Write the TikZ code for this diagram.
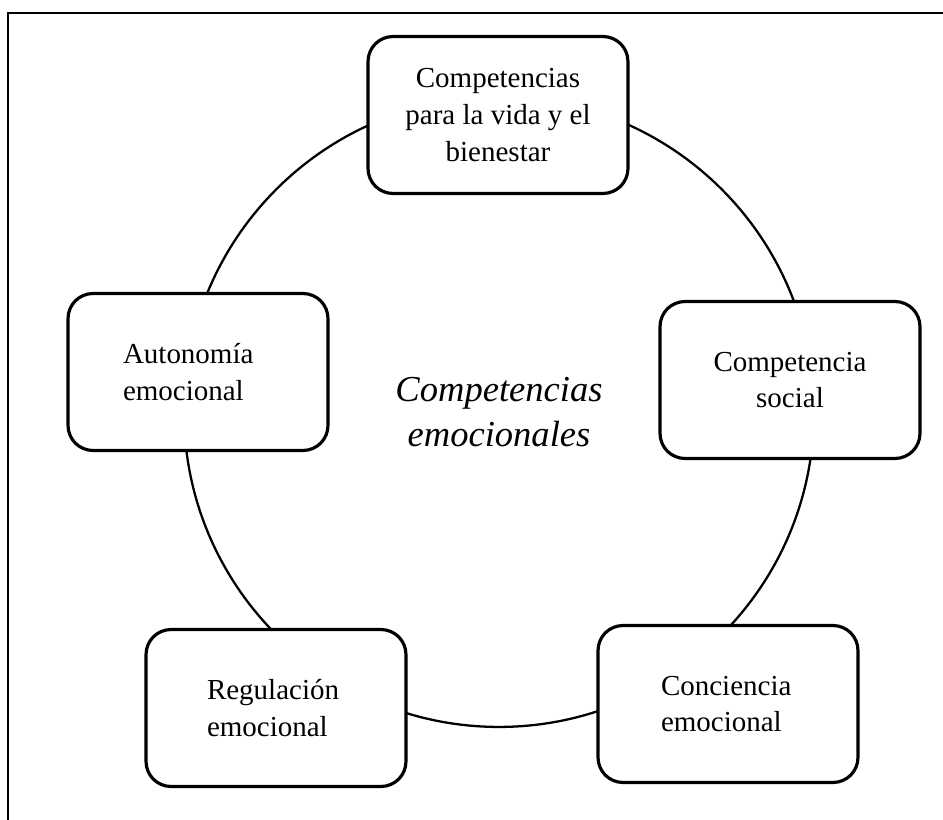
\documentclass[tikz,border=0pt]{standalone}
\usepackage{fontspec}
\setmainfont{Liberation Serif}

\begin{document}
\begin{tikzpicture}[x=0.02cm,y=-0.02cm,
  main node/.style={rectangle,rounded corners=0.5cm,draw,fill=white,
    line width=1.8pt,minimum width=5.2cm,minimum height=3.14cm,
    font=\fontsize{16.5}{21}\selectfont},
  center node/.style={align=center,
    font=\fontsize{20.8}{25.6}\selectfont\itshape}]

  \useasboundingbox (0,0) rectangle (943,820);
  \clip (0,0) rectangle (943,820);
  \draw[line width=1.3pt] (8,13) rectangle (960,840);

  \coordinate (MIDDLE) at (499,412);
  \draw[line width=1.3pt] (MIDDLE) circle (6.3cm);

  \node[center node] (TITLE) at (MIDDLE) {Competencias\\emocionales};

  \node[main node,align=center] (VIDA) at (498,115)
    {Competencias\\para la vida y el\\bienestar};
  \node[main node,align=center] (SOCIAL) at (790,380)
    {Competencia\\social};
  \node[main node,align=left,text width=2.68cm] (CONCIENCIA) at (728,704)
    {Conciencia\\emocional};
  \node[main node,align=left,text width=2.76cm] (REGULACION) at (276,708)
    {Regulación\\emocional};
  \node[main node,align=left,text width=3cm] (AUTONOMIA) at (198,372)
    {Autonomía\\emocional};
\end{tikzpicture}
\end{document}
